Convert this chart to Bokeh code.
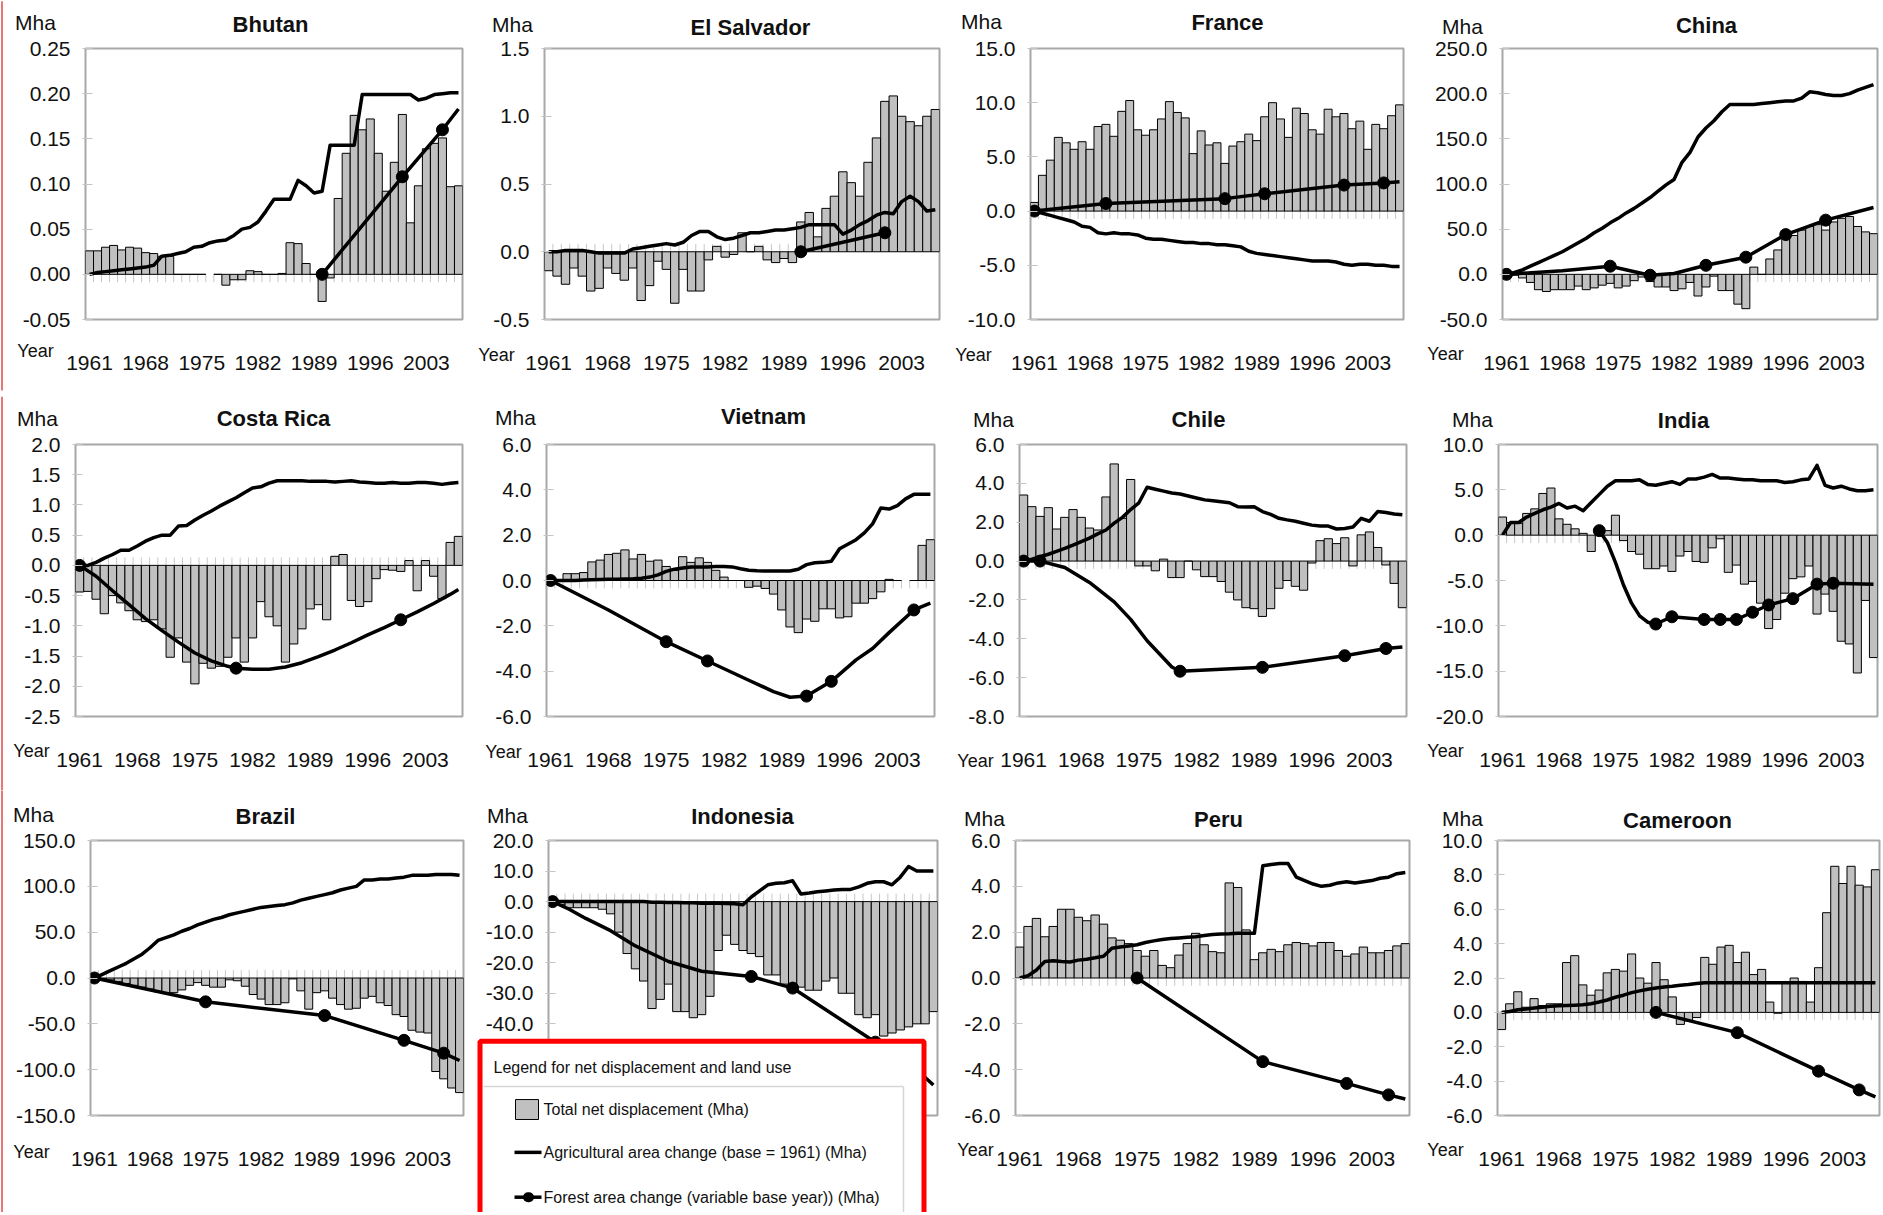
from bokeh.plotting import figure
from bokeh.models import Range1d, FixedTicker, PrintfTickFormatter
from bokeh.core.properties import value
from bokeh.layouts import column, row
from bokeh.embed import file_html
from bokeh.resources import INLINE

NAN = float("nan")
years = list(range(1961, 2008))
year_ticks = [1961, 1968, 1975, 1982, 1989, 1996, 2003]

# ---------------- data (Mha) ----------------
bhutan_net = [0.026, 0.026, 0.030, 0.032, 0.027, 0.030, 0.029, 0.024, 0.023, 0.020,
              0.020, 0.000, 0.000, 0.000, 0.000, NAN, 0.000, -0.012, -0.006, -0.006,
              0.004, 0.003, 0.000, 0.000, 0.001, 0.035, 0.034, 0.012, 0.000, -0.030,
              -0.004, 0.084, 0.134, 0.176, 0.160, 0.172, 0.134, 0.092, 0.124, 0.177,
              0.057, 0.098, 0.139, 0.145, 0.151, 0.097, 0.098]
bhutan_agri = [0.000, 0.002, 0.003, 0.004, 0.005, 0.006, 0.007, 0.008, 0.010, 0.020,
               0.021, 0.023, 0.025, 0.030, 0.031, 0.035, 0.037, 0.038, 0.043, 0.050,
               0.052, 0.058, 0.070, 0.083, 0.083, 0.083, 0.104, 0.098, 0.090, 0.092,
               0.143, 0.143, 0.143, 0.143, 0.199, 0.199, 0.199, 0.199, 0.199, 0.199,
               0.199, 0.193, 0.195, 0.199, 0.200, 0.201, 0.201]
bhutan_forest_years = [1990, 2000, 2005, 2007]
bhutan_forest = [0.0, 0.108, 0.160, 0.183]
bhutan_forest_marks = [1990, 2000, 2005]

elsalvador_net = [-0.14, -0.18, -0.24, -0.12, -0.18, -0.29, -0.27, -0.12, -0.16, -0.21,
                  -0.12, -0.36, -0.25, -0.07, -0.13, -0.38, -0.13, -0.29, -0.29, -0.06,
                  0.04, -0.04, -0.02, 0.14, 0.00, 0.04, -0.06, -0.08, -0.05, -0.08,
                  0.22, 0.29, 0.11, 0.32, 0.41, 0.59, 0.51, 0.41, 0.66, 0.84,
                  1.11, 1.15, 1.00, 0.96, 0.93, 1.00, 1.05]
elsalvador_agri = [0.00, 0.00, 0.01, 0.01, 0.01, 0.00, -0.01, -0.01, -0.01, -0.01,
                   0.02, 0.03, 0.04, 0.05, 0.06, 0.05, 0.07, 0.12, 0.15, 0.15,
                   0.11, 0.09, 0.10, 0.12, 0.14, 0.14, 0.15, 0.16, 0.16, 0.17,
                   0.18, 0.20, 0.20, 0.20, 0.20, 0.13, 0.16, 0.20, 0.23, 0.27,
                   0.29, 0.28, 0.37, 0.41, 0.37, 0.30, 0.31]
elsalvador_forest_years = [1991, 2001]
elsalvador_forest = [0.0, 0.14]
elsalvador_forest_marks = [1991, 2001]

france_net = [0.8, 3.3, 4.7, 6.8, 6.3, 5.7, 6.4, 5.7, 7.8, 8.0,
              6.9, 9.2, 10.2, 7.5, 7.0, 7.5, 8.5, 10.1, 9.1, 8.6,
              5.3, 7.4, 6.1, 6.3, 4.4, 6.0, 6.4, 7.1, 6.5, 8.7,
              10.0, 8.5, 6.8, 9.5, 9.0, 7.5, 7.1, 9.4, 8.7, 9.0,
              7.6, 8.3, 5.7, 8.0, 7.6, 8.8, 9.8]
france_agri = [0.0, -0.2, -0.4, -0.6, -0.8, -1.0, -1.4, -1.5, -2.0, -2.1,
               -2.0, -2.1, -2.1, -2.2, -2.5, -2.6, -2.6, -2.7, -2.8, -2.9,
               -2.9, -3.0, -3.0, -3.1, -3.1, -3.2, -3.3, -3.7, -3.9, -4.0,
               -4.1, -4.2, -4.3, -4.4, -4.5, -4.6, -4.6, -4.6, -4.7, -4.9,
               -5.0, -4.9, -4.9, -5.0, -5.0, -5.1, -5.1]
france_forest_years = [1961, 1970, 1985, 1990, 2000, 2005, 2007]
france_forest = [0.0, 0.7, 1.15, 1.6, 2.4, 2.6, 2.7]
france_forest_marks = [1961, 1970, 1985, 1990, 2000, 2005]

china_net = [0, -1, -4, -9, -17, -19, -17, -17, -17, -13,
             -17, -15, -12, -10, -15, -13, -7, -3, -8, -14,
             -14, -18, -16, -9, -24, -14, -2, -18, -18, -33,
             -38, 8, 0, 17, 27, 42, 43, 49, 53, 55,
             49, 58, 62, 64, 53, 47, 45]
china_agri = [0, 2, 5, 9, 13, 17, 21, 25, 30, 35,
              40, 46, 51, 57, 62, 68, 73, 79, 85, 92,
              99, 105, 124, 135, 152, 162, 170, 180, 188, 188,
              188, 188, 189, 190, 191, 192, 192, 195, 202, 201,
              199, 198, 198, 200, 204, 207, 210]
china_forest_years = [1961, 1968, 1974, 1979, 1982, 1986, 1991, 1996, 2001, 2007]
china_forest = [0, 4, 9, -1, 1, 10, 19, 44, 60, 74]
china_forest_marks = [1961, 1974, 1979, 1986, 1991, 1996, 2001]

costarica_net = [-0.44, -0.43, -0.56, -0.80, -0.50, -0.62, -0.75, -0.90, -0.93, -0.90,
                 -1.05, -1.52, -1.20, -1.60, -1.96, -1.62, -1.70, -1.67, -1.52, -1.20,
                 -1.60, -1.20, -0.60, -0.85, -1.00, -1.60, -1.30, -1.05, -0.72, -0.65,
                 -0.90, 0.15, 0.18, -0.58, -0.68, -0.60, -0.22, -0.07, -0.08, -0.10,
                 0.08, -0.42, 0.08, -0.18, -0.55, 0.38, 0.48]
costarica_agri = [0.00, 0.00, 0.05, 0.12, 0.18, 0.25, 0.25, 0.32, 0.40, 0.46,
                  0.50, 0.50, 0.65, 0.66, 0.75, 0.83, 0.90, 0.98, 1.05, 1.12,
                  1.20, 1.28, 1.30, 1.36, 1.40, 1.40, 1.40, 1.40, 1.39, 1.39,
                  1.39, 1.38, 1.39, 1.40, 1.38, 1.37, 1.36, 1.36, 1.37, 1.36,
                  1.36, 1.37, 1.37, 1.36, 1.34, 1.36, 1.37]
costarica_forest_years = [1961, 1963, 1965, 1967, 1969, 1971, 1973, 1975, 1977, 1979,
                          1980, 1982, 1984, 1986, 1988, 1990, 1992, 1994, 1996, 1998,
                          2000, 2002, 2004, 2006, 2007]
costarica_forest = [0.0, -0.18, -0.42, -0.65, -0.88, -1.08, -1.27, -1.45, -1.58, -1.67,
                    -1.70, -1.72, -1.72, -1.68, -1.61, -1.51, -1.40, -1.28, -1.15, -1.03,
                    -0.90, -0.77, -0.63, -0.48, -0.40]
costarica_forest_marks = [1961, 1980, 2000]

vietnam_net = [0.0, 0.0, 0.3, 0.3, 0.35, 0.82, 0.90, 1.15, 1.20, 1.35,
               0.95, 1.15, 0.85, 0.90, 0.62, 0.45, 1.05, 0.80, 1.00, 0.80,
               0.45, 0.15, 0.0, 0.0, -0.30, -0.25, -0.35, -0.60, -1.30, -2.05,
               -2.30, -1.70, -1.80, -1.25, -1.25, -1.65, -1.60, -1.00, -1.00, -0.80,
               -0.50, 0.05, 0.0, NAN, 0.0, 1.55, 1.80]
vietnam_agri = [0.0, 0.0, 0.0, 0.0, 0.02, 0.03, 0.04, 0.05, 0.06, 0.07,
                0.08, 0.10, 0.15, 0.25, 0.40, 0.50, 0.55, 0.60, 0.60, 0.60,
                0.62, 0.62, 0.60, 0.52, 0.45, 0.43, 0.42, 0.42, 0.42, 0.42,
                0.50, 0.70, 0.78, 0.80, 0.85, 1.40, 1.60, 1.80, 2.10, 2.50,
                3.20, 3.15, 3.30, 3.60, 3.80, 3.80, 3.80]
vietnam_forest_years = [1961, 1968, 1975, 1980, 1985, 1988, 1990, 1992, 1995, 1998,
                        2000, 2002, 2005, 2007]
vietnam_forest = [0.0, -1.3, -2.7, -3.55, -4.4, -4.9, -5.15, -5.1, -4.45, -3.5,
                  -3.0, -2.3, -1.3, -1.0]
vietnam_forest_marks = [1961, 1975, 1980, 1992, 1995, 2005]

chile_net = [3.4, 2.8, 2.3, 2.75, 1.65, 2.25, 2.65, 2.25, 1.7, 1.6,
             3.3, 5.0, 2.2, 4.2, -0.25, -0.25, -0.5, 0.1, -0.85, -0.85,
             0.0, -0.45, -0.80, -0.80, -1.05, -1.60, -2.0, -2.4, -2.45, -2.85,
             -2.45, -1.40, -1.00, -1.30, -1.50, -0.1, 1.05, 1.15, 0.9, 1.2,
             -0.25, 1.35, 1.5, 0.7, -0.2, -1.15, -2.4]
chile_agri = [0.0, 0.1, 0.22, 0.35, 0.50, 0.65, 0.82, 1.00, 1.18, 1.40,
              1.60, 1.95, 2.25, 2.65, 3.00, 3.80, 3.70, 3.60, 3.50, 3.45,
              3.35, 3.25, 3.15, 3.10, 3.05, 3.00, 2.80, 2.78, 2.80, 2.55,
              2.40, 2.20, 2.12, 2.05, 1.95, 1.85, 1.80, 1.80, 1.65, 1.68,
              1.75, 2.20, 2.05, 2.55, 2.50, 2.42, 2.38]
chile_forest_years = [1961, 1963, 1966, 1969, 1972, 1974, 1976, 1978, 1979, 1980,
                      1990, 2000, 2005, 2007]
chile_forest = [0.0, 0.0, -0.33, -1.1, -2.1, -3.0, -4.1, -5.0, -5.45, -5.67,
                -5.47, -4.87, -4.5, -4.42]
chile_forest_marks = [1961, 1963, 1980, 1990, 2000, 2005]

india_net = [2.0, 1.4, 1.3, 2.4, 2.9, 4.6, 5.2, 1.8, 1.2, 0.7,
             0.2, -1.8, 0.3, 0.5, 2.2, -0.6, -1.8, -2.1, -3.7, -3.7,
             -3.4, -4.0, -2.3, -1.8, -2.9, -3.0, -1.4, -0.4, -4.1, -3.3,
             -5.4, -5.1, -7.5, -10.3, -9.3, -6.4, -4.8, -4.6, -3.4, -8.7,
             -6.5, -8.4, -11.7, -12.0, -15.2, -7.2, -13.5]
india_agri = [0.0, 1.4, 1.4, 2.0, 2.4, 2.8, 3.1, 3.5, 3.0, 3.2,
              2.7, 3.6, 4.5, 5.4, 6.0, 6.0, 6.0, 6.1, 5.6, 5.5,
              5.7, 5.9, 5.6, 6.2, 6.2, 6.4, 6.7, 6.3, 6.3, 6.2,
              6.1, 6.1, 6.0, 6.0, 6.0, 5.8, 5.9, 6.1, 6.2, 7.7,
              5.5, 5.2, 5.4, 5.1, 4.9, 4.9, 5.0]
india_forest_years = [1973, 1974, 1975, 1976, 1977, 1978, 1979, 1980, 1982, 1986,
                      1988, 1990, 1992, 1994, 1997, 2000, 2002, 2007]
india_forest = [0.5, -0.8, -3.0, -5.5, -7.5, -8.9, -9.6, -9.8, -9.0, -9.3,
                -9.3, -9.3, -8.5, -7.7, -7.0, -5.4, -5.3, -5.4]
india_forest_marks = [1973, 1980, 1982, 1986, 1988, 1990, 1992, 1994, 1997, 2000, 2002]

brazil_net = [0, -1, -2, -4, -6, -8, -10, -12, -15, -17,
              -16, -13, -8, -5, -8, -10, -10, -2, -3, -9,
              -18, -23, -29, -29, -27, -1, -14, -34, -16, -14,
              -22, -29, -34, -33, -22, -20, -27, -30, -40, -42,
              -57, -59, -60, -102, -110, -120, -125]
brazil_agri = [0, 4, 8, 12, 16, 21, 26, 33, 41, 44,
               47, 51, 54, 58, 61, 64, 66, 69, 71, 73,
               75, 77, 78, 79, 80, 82, 85, 87, 89, 91,
               93, 96, 98, 100, 107, 107, 108, 108, 109, 110,
               112, 112, 112, 113, 113, 113, 112]
brazil_forest_years = [1961, 1975, 1990, 2000, 2005, 2007]
brazil_forest = [0, -26, -41, -68, -82, -90]
brazil_forest_marks = [1961, 1975, 1990, 2000, 2005]

indonesia_net = [0, -1, -2, -2, -2, -2, -2.5, -4, -10, -17,
                 -22, -26, -35, -32, -27, -36, -36, -38, -37, -31,
                 -16, -11, -14, -16, -17, -18, -24, -24, -27, -29,
                 -28, -29, -29, -26, -25, -30, -30, -37, -38, -37,
                 -44, -43, -42, -41, -40, -40, -36]
indonesia_agri = [0, 0, 0, 0, 0, 0, 0, 0, 0, 0,
                  0, 0, -0.2, -0.2, -0.3, -0.3, -0.4, -0.4, -0.5, -0.5,
                  -0.5, -0.6, -0.7, -1.0, 1.5, 3.5, 5.5, 6.0, 6.2, 6.8,
                  2.5, 2.8, 3.2, 3.5, 3.8, 4.0, 4.0, 4.8, 6.0, 6.5,
                  6.5, 5.5, 8.0, 11.5, 10.0, 10.0, 10.0]
indonesia_forest_years = [1961, 1963, 1965, 1968, 1971, 1975, 1979, 1985, 1990, 2000, 2005, 2007]
indonesia_forest = [0, -2.5, -5.5, -9.5, -14.5, -19.6, -22.8, -24.5, -28.3, -46, -55, -60]
indonesia_forest_marks = [1961, 1985, 1990, 2000, 2005]

peru_net = [1.35, 2.25, 2.6, 1.8, 2.25, 3.0, 3.0, 2.65, 2.5, 2.75,
            2.35, 1.75, 1.65, 1.5, 1.2, 0.95, 1.2, 0.55, 0.45, 1.0,
            1.5, 1.95, 1.45, 1.15, 1.1, 4.15, 3.95, 2.1, 0.8, 1.1,
            1.25, 1.15, 1.45, 1.55, 1.5, 1.4, 1.55, 1.55, 1.2, 0.95,
            1.05, 1.35, 1.1, 1.1, 1.2, 1.4, 1.5]
peru_agri = [0.0, 0.1, 0.35, 0.72, 0.75, 0.72, 0.70, 0.78, 0.82, 0.88,
             0.95, 1.30, 1.35, 1.40, 1.45, 1.55, 1.62, 1.68, 1.72, 1.75,
             1.78, 1.80, 1.85, 1.90, 1.92, 1.93, 1.95, 1.95, 1.95, 4.90,
             4.95, 5.00, 5.00, 4.40, 4.25, 4.10, 4.00, 4.05, 4.15, 4.20,
             4.15, 4.20, 4.25, 4.35, 4.40, 4.55, 4.60]
peru_forest_years = [1975, 1990, 2000, 2005, 2007]
peru_forest = [0.0, -3.65, -4.6, -5.1, -5.28]
peru_forest_marks = [1975, 1990, 2000, 2005]

cameroon_net = [-1.0, 0.5, 1.2, 0.3, 0.8, 0.4, 0.5, 0.5, 2.9, 3.3,
                1.6, 1.0, 1.3, 2.3, 2.5, 2.4, 3.4, 2.0, 1.7, 2.9,
                1.9, 0.9, -0.7, -0.5, -0.3, 3.2, 2.8, 3.8, 3.9, 2.9,
                3.5, 2.2, 2.5, 0.6, -0.05, 1.7, 2.0, 1.8, 0.6, 2.6,
                5.8, 8.5, 7.5, 8.5, 7.4, 7.3, 8.3]
cameroon_agri = [0.0, 0.05, 0.15, 0.2, 0.25, 0.3, 0.35, 0.38, 0.4, 0.42,
                 0.45, 0.5, 0.6, 0.72, 0.88, 1.0, 1.15, 1.25, 1.35, 1.42,
                 1.48, 1.52, 1.58, 1.62, 1.68, 1.72, 1.72, 1.72, 1.72, 1.72,
                 1.72, 1.72, 1.72, 1.72, 1.72, 1.72, 1.72, 1.72, 1.72, 1.72,
                 1.72, 1.72, 1.72, 1.72, 1.72, 1.72, 1.72]
cameroon_forest_years = [1980, 1990, 2000, 2005, 2007]
cameroon_forest = [0.0, -1.18, -3.42, -4.51, -4.92]
cameroon_forest_marks = [1980, 1990, 2000, 2005]

countries = ["Bhutan", "El Salvador", "France", "China",
             "Costa Rica", "Vietnam", "Chile", "India",
             "Brazil", "Indonesia", "Peru", "Cameroon"]
series = {
    "Bhutan": (bhutan_net, bhutan_agri, bhutan_forest_years, bhutan_forest, bhutan_forest_marks),
    "El Salvador": (elsalvador_net, elsalvador_agri, elsalvador_forest_years, elsalvador_forest, elsalvador_forest_marks),
    "France": (france_net, france_agri, france_forest_years, france_forest, france_forest_marks),
    "China": (china_net, china_agri, china_forest_years, china_forest, china_forest_marks),
    "Costa Rica": (costarica_net, costarica_agri, costarica_forest_years, costarica_forest, costarica_forest_marks),
    "Vietnam": (vietnam_net, vietnam_agri, vietnam_forest_years, vietnam_forest, vietnam_forest_marks),
    "Chile": (chile_net, chile_agri, chile_forest_years, chile_forest, chile_forest_marks),
    "India": (india_net, india_agri, india_forest_years, india_forest, india_forest_marks),
    "Brazil": (brazil_net, brazil_agri, brazil_forest_years, brazil_forest, brazil_forest_marks),
    "Indonesia": (indonesia_net, indonesia_agri, indonesia_forest_years, indonesia_forest, indonesia_forest_marks),
    "Peru": (peru_net, peru_agri, peru_forest_years, peru_forest, peru_forest_marks),
    "Cameroon": (cameroon_net, cameroon_agri, cameroon_forest_years, cameroon_forest, cameroon_forest_marks),
}

legend_title = "Legend for net displacement and land use"
legend_labels = ["Total net displacement (Mha)",
                 "Agricultural area change (base = 1961) (Mha)",
                 "Forest area change (variable base year)) (Mha)"]

# ---------------- layout (page pixels) ----------------
COL_X = [(0, 470), (470, 950), (950, 1420), (1420, 1881)]
ROW_Y = [(0, 395), (395, 790), (790, 1212)]

# name: (frame box, (ymin, ymax, step), fmt, title xy, Mha xy, Year xy, zero-tick dir)
layout = {
    "Bhutan":      ((85, 48, 462, 323),    (-0.05, 0.25, 0.05), "%.2f", (270, 24),  (35, 22),   (35, 355),  -1),
    "El Salvador": ((544, 44, 939, 319),   (-0.5, 1.5, 0.5),    "%.1f", (750, 23),  (512, 20),  (496, 355), 1),
    "France":      ((1030, 48, 1403, 322), (-10, 15, 5),        "%.1f", (1227, 22), (981, 21),  (973, 358), -1),
    "China":       ((1502, 44, 1877, 322), (-50, 250, 50),      "%.1f", (1706, 20), (1462, 21), (1445, 357), -1),
    "Costa Rica":  ((75, 443, 462, 716),   (-2.5, 2.0, 0.5),    "%.1f", (273, 417), (37, 417),  (31, 751),  1),
    "Vietnam":     ((546, 444, 934, 717),  (-6, 6, 2),          "%.1f", (763, 416), (515, 417), (503, 753), -1),
    "Chile":       ((1019, 438, 1406, 716), (-8, 6, 2),         "%.1f", (1198, 412), (993, 412), (975, 761), -1),
    "India":       ((1498, 442, 1877, 719), (-20, 10, 5),       "%.1f", (1683, 418), (1472, 417), (1445, 754), -1),
    "Brazil":      ((90, 840, 463, 1115),  (-150, 150, 50),     "%.1f", (265, 816), (33, 814),  (31, 1151), 1),
    "Indonesia":   ((548, 839, 937, 1115), (-70, 20, 10),       "%.1f", (742, 815), (507, 814), None,       1),
    "Peru":        ((1015, 838, 1409, 1120), (-6, 6, 2),        "%.1f", (1218, 816), (984, 815), (975, 1155), -1),
    "Cameroon":    ((1497, 836, 1879, 1119), (-6, 10, 2),       "%.1f", (1677, 815), (1462, 813), (1445, 1155), -1),
}

FONT = "Liberation Sans"
BAR_FILL = "#c0c0c0"
LW = 3.5
TXT = "#111111"


def make_panel(name, ci, ri):
    net, agri, fyears, fvals, fmarks = series[name]
    (fx0, fy0, fx1, fy1), (ymin, ymax, step), fmt, tpos, mpos, ypos, tdir = layout[name]
    gx0, gx1 = COL_X[ci]
    gy0, gy1 = ROW_Y[ri]
    x0, x1 = 1960.5, 2007.5

    def px2x(px):
        return x0 + (px - fx0) * (x1 - x0) / (fx1 - fx0)

    def py2y(py):
        return ymin + (fy1 - py) * (ymax - ymin) / (fy1 - fy0)

    p = figure(width=gx1 - gx0, height=gy1 - gy0,
               x_range=Range1d(x0, x1), y_range=Range1d(ymin, ymax),
               min_border_left=fx0 - gx0, min_border_right=gx1 - fx1,
               min_border_top=fy0 - gy0, min_border_bottom=gy1 - fy1,
               output_backend="svg", toolbar_location=None, title=None)
    p.background_fill_color = "white"
    p.border_fill_color = "white"
    p.outline_line_color = "#a8a8a8"
    p.outline_line_width = 2
    p.xgrid.visible = False
    p.ygrid.visible = False

    p.xaxis.ticker = FixedTicker(ticks=year_ticks)
    p.xaxis.axis_line_color = None
    p.xaxis.major_tick_line_color = None
    p.xaxis.minor_tick_line_color = None
    p.xaxis.major_label_text_font = FONT
    p.xaxis.major_label_text_font_size = "21px"
    p.xaxis.major_label_text_color = TXT
    p.xaxis.major_label_standoff = 30

    nt = int(round((ymax - ymin) / step))
    p.yaxis.ticker = FixedTicker(ticks=[round(ymin + k * step, 6) for k in range(nt + 1)])
    p.yaxis.formatter = PrintfTickFormatter(format=fmt)
    p.yaxis.axis_line_color = None
    p.yaxis.minor_tick_line_color = None
    p.yaxis.major_tick_line_color = "#c4c4c4"
    p.yaxis.major_tick_in = 7
    p.yaxis.major_tick_out = 3
    p.yaxis.major_label_text_font = FONT
    p.yaxis.major_label_text_font_size = "21px"
    p.yaxis.major_label_text_color = TXT
    p.yaxis.major_label_standoff = 12

    # category tick marks at the zero line
    d = (ymax - ymin) / (fy1 - fy0) * 8 * tdir
    bnd = [y + 0.5 for y in years[:-1]]
    p.segment(x0=bnd, y0=[0] * len(bnd), x1=bnd, y1=[d] * len(bnd),
              line_color="#c8c8c8", line_width=1)

    p.vbar(x=years, top=net, bottom=0, width=1.0,
           fill_color=BAR_FILL, line_color="black", line_width=1)
    p.line(years, agri, line_color="black", line_width=LW, line_join="round")
    p.line(fyears, fvals, line_color="black", line_width=LW, line_join="round")
    lookup = dict(zip(fyears, fvals))
    p.scatter(list(fmarks), [lookup[y] for y in fmarks],
              size=12, fill_color="black", line_color="black")

    def put_text(px, py, txt, size, style="normal", align="center"):
        p.text(x=[px2x(px)], y=[py2y(py)], text=[txt],
               text_font=value(FONT), text_font_size=value(size),
               text_font_style=value(style), text_align=value(align),
               text_baseline=value("middle"), text_color=TXT, level="overlay")

    put_text(tpos[0], tpos[1], name, "22px", "bold")
    put_text(mpos[0], mpos[1], "Mha", "21px")
    if ypos is not None:
        put_text(ypos[0], ypos[1], "Year", "18px")

    if ci == 0:
        # thin red page rule at the left edge of the source page
        p.segment(x0=[px2x(1.5)], y0=[py2y(gy0)], x1=[px2x(1.5)], y1=[py2y(gy1)],
                  line_color="#e04848", line_width=1.5, level="overlay")

    if name == "Indonesia":
        # legend box (drawn over the lower part of this panel)
        p.quad(left=[px2x(479.5)], right=[px2x(923.5)], top=[py2y(1040.5)], bottom=[py2y(1260)],
               fill_color="white", line_color="#ff0000", line_width=5, level="overlay")
        p.segment(x0=[px2x(483), px2x(903)], y0=[py2y(1086), py2y(1086)],
                  x1=[px2x(903), px2x(903)], y1=[py2y(1086), py2y(1260)],
                  line_color="#d6d6d6", line_width=1.5, level="overlay")
        put_text(493, 1067, legend_title, "16px", "normal", "left")
        p.quad(left=[px2x(515)], right=[px2x(538)], top=[py2y(1099)], bottom=[py2y(1119)],
               fill_color=BAR_FILL, line_color="black", line_width=1, level="overlay")
        p.segment(x0=[px2x(514), px2x(514)], y0=[py2y(1152), py2y(1197)],
                  x1=[px2x(541), px2x(541)], y1=[py2y(1152), py2y(1197)],
                  line_color="black", line_width=LW, level="overlay")
        # marker of the forest swatch (round-capped short stroke = dot)
        p.segment(x0=[px2x(527.5)], y0=[py2y(1197)], x1=[px2x(528.5)], y1=[py2y(1197)],
                  line_color="black", line_width=10, line_cap="round", level="overlay")
        for lbl, ly in zip(legend_labels, [1109, 1152, 1197]):
            put_text(543, ly, lbl, "16px", "normal", "left")
    return p


figs = []
for idx, name in enumerate(countries):
    figs.append(make_panel(name, idx % 4, idx // 4))

page = column(row(*figs[0:4], spacing=0), row(*figs[4:8], spacing=0),
              row(*figs[8:12], spacing=0), spacing=0)

open("out.html", "w").write(file_html(page, INLINE))
